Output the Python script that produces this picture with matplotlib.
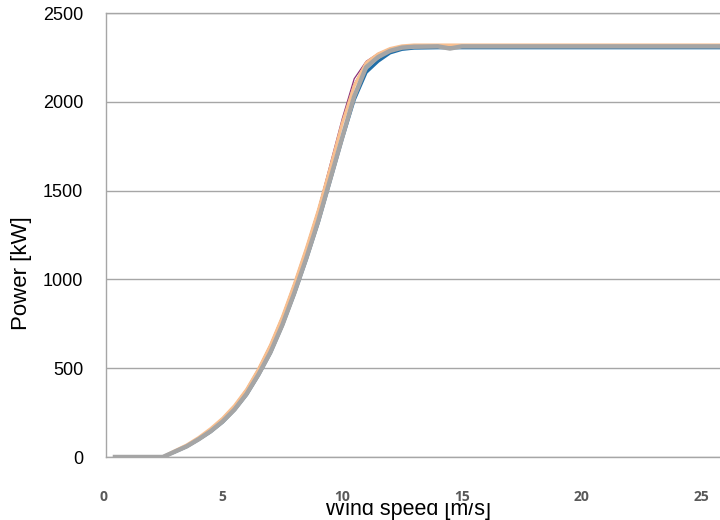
import matplotlib
matplotlib.use("Agg")
import matplotlib.pyplot as plt
from matplotlib.transforms import Bbox

# Wind speed [m/s] and power [kW] of the measured / modelled curves
speed = [0.5, 1, 2, 2.5, 3, 3.5, 4, 4.5, 5, 5.5, 6, 6.5, 7, 7.5, 8, 8.5, 9, 9.5,
         10, 10.5, 11, 11.5, 12, 12.5, 13, 14, 14.5, 15, 16, 18, 20, 22, 24, 26]

power_purple = [0, 0, 0, 0, 34, 66, 108, 156, 214, 285, 375, 490, 625, 785, 970, 1170, 1395, 1650,
                1905, 2130, 2228, 2272, 2300, 2314, 2318, 2318, 2318, 2318, 2318, 2318, 2318, 2318, 2318, 2318]
power_dark = [0, 0, 0, 0, 36, 68, 110, 160, 220, 292, 384, 500, 636, 796, 982, 1182, 1398, 1640,
              1890, 2100, 2220, 2268, 2298, 2312, 2316, 2316, 2316, 2316, 2316, 2316, 2316, 2316, 2316, 2316]
power_blue = [0, 0, 0, 0, 28, 58, 98, 142, 196, 265, 350, 460, 585, 740, 918, 1112, 1320, 1555,
              1790, 2010, 2165, 2228, 2275, 2295, 2302, 2304, 2304, 2304, 2304, 2304, 2304, 2304, 2304, 2304]
power_orange = [0, 0, 0, 0, 35, 68, 110, 160, 218, 290, 380, 495, 630, 790, 975, 1175, 1390, 1630,
                1880, 2090, 2220, 2270, 2300, 2315, 2320, 2320, 2320, 2320, 2320, 2320, 2320, 2320, 2320, 2320]
power_gray = [0, 0, 0, 0, 30, 60, 100, 145, 200, 268, 355, 465, 590, 745, 925, 1120, 1330, 1565,
              1800, 2030, 2195, 2252, 2287, 2305, 2310, 2312, 2300, 2312, 2312, 2312, 2312, 2312, 2312, 2312]

x_ticks = [0, 5, 10, 15, 20, 25]
y_ticks = [0, 500, 1000, 1500, 2000, 2500]

fig = plt.figure(figsize=(7.2, 5.2), dpi=100)
ax = fig.add_axes([106 / 720, 63 / 520, 614 / 720, 444 / 520])

# series, drawn in Excel order (last one on top)
ax.plot(speed, power_purple, color="#8B2F78", lw=0.9)
ax.plot(speed, power_dark, color="#404040", lw=0.8)
ax.plot(speed, power_blue, color="#1F6EA8", lw=2.2)
ax.plot(speed, power_orange, color="#F9BF8F", lw=2.2)
ax.plot(speed, power_gray, color="#A5A5A5", lw=3.2)

ax.set_xlim(0.125, 25.79)
ax.set_ylim(0, 2500)

ax.set_yticks(y_ticks)
ax.set_yticklabels([str(v) for v in y_ticks], fontfamily="Liberation Sans", fontsize=13)
ax.tick_params(axis="y", length=0, pad=16.5)
ax.set_xticks([])
ax.grid(axis="y", color="#A6A6A6", lw=1.0)
ax.set_axisbelow(True)

for side in ["left", "bottom", "top"]:
    ax.spines[side].set_color("#A6A6A6")
    ax.spines[side].set_linewidth(1.0)
ax.spines["right"].set_visible(False)

# x tick labels sit well below the plot area, like the original
for v in x_ticks:
    ax.text(v, -0.09, str(v), transform=ax.get_xaxis_transform(), ha="center", va="center",
            fontfamily="Open Sans", fontweight="bold", fontsize=10, color="#595959", clip_on=False)

fig.text(22 / 720, 1 - 273 / 520, "Power [kW]", rotation=90, ha="center", va="center",
         fontfamily="Liberation Sans", fontsize=16)

# x axis title is cut at the top in the reference
xl = fig.text(408 / 720, 5 / 520, "Wind speed [m/s]", ha="center", va="baseline",
              fontfamily="Liberation Sans", fontsize=15.5)
xl.set_clip_on(True)
xl.set_clip_box(Bbox.from_extents(0, 0, 720, 17))

fig.savefig("out.png", dpi=100)
